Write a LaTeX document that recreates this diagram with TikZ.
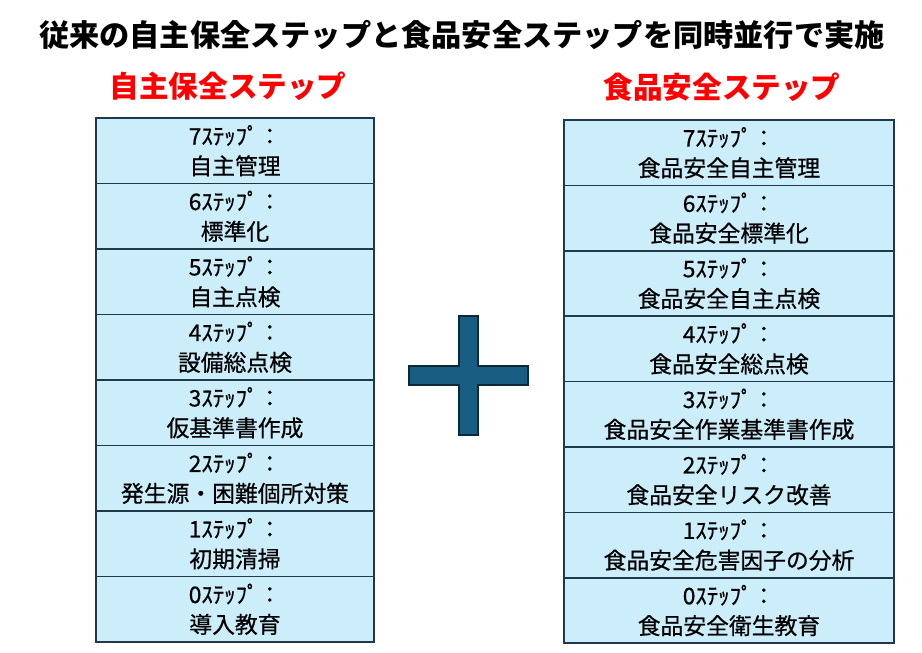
\documentclass[tikz,border=0pt]{standalone}
\usepackage{fontspec}
\setmainfont{Noto Sans CJK JP}
\newfontfamily\boxfont{Noto Sans CJK JP}[FakeBold=0.6]
\usepackage{xcolor}
\usepackage{tikz}

\definecolor{boxfill}{RGB}{204,238,251}
\definecolor{boxline}{RGB}{31,56,74}
\definecolor{plusfill}{RGB}{23,94,130}
\definecolor{plusline}{RGB}{14,40,56}

\begin{document}
\begin{tikzpicture}[
    x=1pt, y=-1pt,
    title/.style={font=\fontsize{30.2}{34}\selectfont\bfseries, text=black},
    heading/.style={font=\fontsize{29.6}{34}\selectfont\bfseries, text=red},
    stepbox/.style={rectangle, draw=boxline, fill=boxfill, line width=1.5pt,
        outer sep=0pt, align=center, minimum height=65.5pt,
        font=\boxfont\fontsize{22.8}{30}\selectfont},
    leftbox/.style={stepbox, minimum width=278pt},
    rightbox/.style={stepbox, minimum width=330pt, minimum height=65.4pt}
]
\useasboundingbox (0,0) rectangle (922,653);

% Titles :
\node[title] (T) at (462, 35) {従来の自主保全ステップと食品安全ステップを同時並行で実施};
\node[heading] (HL) at (228, 86) {自主保全ステップ};
\node[heading] (HR) at (722, 87) {食品安全ステップ};

% Left column :
\node[leftbox] (L7) at (235, 150.75) {7ｽﾃｯﾌﾟ：\\自主管理};
\node[leftbox] (L6) at (235, 216.25) {6ｽﾃｯﾌﾟ：\\標準化};
\node[leftbox] (L5) at (235, 281.75) {5ｽﾃｯﾌﾟ：\\自主点検};
\node[leftbox] (L4) at (235, 347.25) {4ｽﾃｯﾌﾟ：\\設備総点検};
\node[leftbox] (L3) at (235, 412.75) {3ｽﾃｯﾌﾟ：\\仮基準書作成};
\node[leftbox] (L2) at (235, 478.25) {2ｽﾃｯﾌﾟ：\\発生源・困難個所対策};
\node[leftbox] (L1) at (235, 543.75) {1ｽﾃｯﾌﾟ：\\初期清掃};
\node[leftbox] (L0) at (235, 609.25) {0ｽﾃｯﾌﾟ：\\導入教育};

% Right column :
\node[rightbox] (R7) at (729, 152.7) {7ｽﾃｯﾌﾟ：\\食品安全自主管理};
\node[rightbox] (R6) at (729, 218.1) {6ｽﾃｯﾌﾟ：\\食品安全標準化};
\node[rightbox] (R5) at (729, 283.5) {5ｽﾃｯﾌﾟ：\\食品安全自主点検};
\node[rightbox] (R4) at (729, 348.9) {4ｽﾃｯﾌﾟ：\\食品安全総点検};
\node[rightbox] (R3) at (729, 414.3) {3ｽﾃｯﾌﾟ：\\食品安全作業基準書作成};
\node[rightbox] (R2) at (729, 479.7) {2ｽﾃｯﾌﾟ：\\食品安全リスク改善};
\node[rightbox] (R1) at (729, 545.1) {1ｽﾃｯﾌﾟ：\\食品安全危害因子の分析};
\node[rightbox] (R0) at (729, 610.5) {0ｽﾃｯﾌﾟ：\\食品安全衛生教育};

% Plus :
\draw[fill=plusfill, draw=plusline, line width=1.2pt]
    (459,316) -- (478,316) -- (478,366) -- (528,366) -- (528,385) -- (478,385)
    -- (478,435) -- (459,435) -- (459,385) -- (409,385) -- (409,366) -- (459,366) -- cycle;

\end{tikzpicture}
\end{document}
